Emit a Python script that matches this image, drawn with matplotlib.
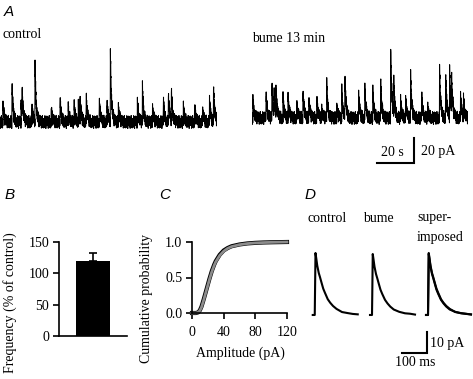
import matplotlib
matplotlib.use("Agg")
import matplotlib.pyplot as plt
import numpy as np

W, H = 473, 379
SERIF = "Liberation Serif"
SANS = "Liberation Sans"

# A: spontaneous events (time s, amplitude pA)
ctrl_event_t = [1.6, 6.5, 11.4, 11.9, 17.3, 18.9, 27.6, 32.4, 36.8, 40.0, 42.2, 43.2,
                46.5, 53.5, 57.8, 59.5, 63.8, 74.1, 76.8, 82.2, 88.1, 90.8, 92.4,
                98.9, 104.9, 109.2, 113.0, 115.1]
ctrl_event_amp = [15, 30, 16, 22, 11, 46, 10, 18, 12, 13, 15, 15,
                  21, 16, 14, 56, 13, 17, 28, 12, 18, 22, 26,
                  12, 13, 10, 18, 30]
bume_event_t = [0.5, 7.6, 10.8, 11.9, 13.0, 16.8, 19.5, 24.3, 27.6, 30.8, 35.1, 37.8,
                40.5, 45.9, 48.6, 50.3, 57.8, 61.1, 65.4, 69.7, 75.1, 76.8, 80.5,
                83.2, 85.9, 91.9, 95.1, 101.6, 104.9, 107.0, 108.1, 113.0, 114.6]
bume_event_amp = [16, 22, 27, 20, 20, 16, 19, 10, 22, 16, 14, 8,
                  28, 9, 22, 33, 19, 24, 22, 31, 58, 26, 14,
                  14, 36, 19, 9, 39, 37, 40, 32, 18, 16]
TRACE_LEN_S = 117.0
DECAY_S = 0.6
# baseline noise: excursions (pA) read as the ragged band around the baseline
noise_pa = [4.2, 2.1, 3.5, 5.0, 1.6, 3.9, 2.8, 4.6, 1.9, 3.3, 5.2, 2.4, 3.0, 4.4,
            1.4, 3.7, 2.6, 4.8, 2.2, 3.1, 1.8, 4.1, 2.9]

# B: mEPSC frequency in bumetanide
freq_mean = [120]
freq_sem = [12]

# C: cumulative amplitude distributions
amp_pa = [0, 5, 8, 10, 12, 15, 18, 20, 22, 25, 28, 30, 35, 40, 45, 50,
          60, 70, 80, 90, 100, 110, 120]
cdf_control = [0, 0, 0.01, 0.04, 0.09, 0.2, 0.32, 0.4, 0.48, 0.59, 0.68, 0.73,
               0.82, 0.88, 0.915, 0.94, 0.965, 0.98, 0.988, 0.993, 0.996, 0.998, 1.0]
cdf_bume = [0, 0, 0.01, 0.035, 0.08, 0.19, 0.31, 0.39, 0.47, 0.58, 0.67, 0.72,
            0.81, 0.87, 0.91, 0.935, 0.962, 0.978, 0.987, 0.992, 0.995, 0.998, 1.0]

# D: averaged events (ms from trace start, pA)
avg_t_ms = [0, 8, 9, 11, 14, 18, 24, 29, 36, 42, 49, 60, 70, 81, 95, 117, 140, 160, 180]
avg_control_pa = [0, 0, 10, 29.5, 27, 23.5, 20, 18, 15, 12.5, 10.5, 7.5, 5.8, 4.3,
                  2.9, 1.4, 0.9, 0.5, 0.3]
avg_bume_pa = [0, 0, 9, 29.0, 26.5, 23, 19.5, 17.5, 14.5, 12, 10, 7.2, 5.5, 4.0,
               2.6, 1.5, 0.8, 0.6, 0.2]


def px_axes(fig, left, top, right, bottom):
    return fig.add_axes([left / W, 1 - bottom / H, (right - left) / W, (bottom - top) / H])


def fig_text(fig, x, y, s, **kw):
    kw.setdefault("family", SERIF)
    kw.setdefault("fontsize", 10)
    fig.text(x / W, 1 - y / H, s, **kw)


def build_trace(event_t, event_amp, dt=0.08):
    t = np.arange(0, TRACE_LEN_S, dt)
    y = np.zeros_like(t)
    for t0, a in zip(event_t, event_amp):
        t0 = round(t0 / dt) * dt
        m = t >= t0 - 1e-9
        y[m] += a * np.exp(-(t[m] - t0) / DECAY_S)
    # alternate sign sample to sample so the noise renders as a dense band
    n = len(t)
    band = np.resize(np.array(noise_pa), n)
    y += band * np.where(np.arange(n) % 2, -1.0, 1.0)
    return t, y


def bare(ax):
    ax.set_axis_off()


def main() -> None:
    fig = plt.figure(figsize=(W / 100, H / 100), dpi=100)

    # ---- A: raw traces
    ax_l = px_axes(fig, 0, 34.5, 217, 134.5)
    t, y = build_trace(ctrl_event_t, ctrl_event_amp)
    ax_l.plot(t, y, color="black", lw=0.75)
    ax_l.set_xlim(0, TRACE_LEN_S)
    ax_l.set_ylim(-10, 70)
    bare(ax_l)

    ax_r = px_axes(fig, 252, 30.5, 468, 130.5)
    t, y = build_trace(bume_event_t, bume_event_amp)
    ax_r.plot(t, y, color="black", lw=0.75)
    ax_r.set_xlim(0, TRACE_LEN_S)
    ax_r.set_ylim(-10, 70)
    bare(ax_r)
    # scale bar 20 s / 20 pA
    ax_r.plot([67.6, 87.6, 87.6], [-36, -36, -16], color="black", lw=1.5,
              clip_on=False, solid_joinstyle="miter")

    fig_text(fig, 4, 12, "A", family=SANS, style="italic", fontsize=11, va="center")
    fig_text(fig, 2, 35, "control", va="center")
    fig_text(fig, 252, 38, "bume 13 min", va="center")
    fig_text(fig, 392, 152, "20 s", va="center", ha="center")
    fig_text(fig, 421, 152, "20 pA", va="center")

    # ---- B: frequency bar
    ax_b = px_axes(fig, 59, 241.7, 127, 336)
    ax_b.bar([0.5], freq_mean, width=0.5, color="black")
    ax_b.errorbar([0.5], freq_mean, yerr=[[0], freq_sem], fmt="none", ecolor="black",
                  elinewidth=1.2, capsize=3, capthick=1.2)
    ax_b.set_xlim(0, 1)
    ax_b.set_ylim(0, 150)
    ax_b.set_yticks([0, 50, 100, 150])
    ax_b.set_xticks([])
    for s in ("top", "right"):
        ax_b.spines[s].set_visible(False)
    fig_text(fig, 10, 195, "B", family=SANS, style="italic", fontsize=11, va="center", ha="center")
    fig_text(fig, 10, 303, "Frequency (% of control)", rotation=90, va="center", ha="center")

    # ---- C: cumulative amplitude
    ax_c = px_axes(fig, 192, 242, 287, 313)
    ax_c.plot(amp_pa, cdf_control, color="black", lw=3.0, clip_on=False)
    ax_c.plot(amp_pa, cdf_bume, color="#8c8c8c", lw=2.0, clip_on=False)
    ax_c.set_xlim(0, 120)
    ax_c.set_ylim(0, 1.0)
    ax_c.set_xticks([0, 40, 80, 120])
    ax_c.set_yticks([0, 0.5, 1.0])
    ax_c.set_yticklabels(["0.0", "0.5", "1.0"])
    for s in ("top", "right"):
        ax_c.spines[s].set_visible(False)
    fig_text(fig, 165, 195, "C", family=SANS, style="italic", fontsize=11, va="center", ha="center")
    fig_text(fig, 146, 298, "Cumulative probability", rotation=90, va="center", ha="center")
    fig_text(fig, 240, 353, "Amplitude (pA)", va="center", ha="center")

    for ax in (ax_b, ax_c):
        ax.tick_params(direction="out", length=4, width=1.2, labelsize=10, pad=3)
        for lab in ax.get_xticklabels() + ax.get_yticklabels():
            lab.set_family(SERIF)
        for s in ("left", "bottom"):
            ax.spines[s].set_linewidth(1.2)
    ax_c.tick_params(axis="x", pad=5)

    # ---- D: averaged events
    ax_d = px_axes(fig, 305, 245, 473, 365)
    t_avg = np.array(avg_t_ms)
    ax_d.plot(t_avg + 31, avg_control_pa, color="black", lw=1.5)
    ax_d.plot(t_avg + 260, avg_bume_pa, color="black", lw=1.5)
    ax_d.plot(t_avg + 484, avg_control_pa, color="black", lw=1.5)
    ax_d.plot(t_avg + 484, avg_bume_pa, color="black", lw=1.5)
    ax_d.plot([388, 488, 488], [-18.1, -18.1, -8.1], color="black", lw=1.5,
              clip_on=False, solid_joinstyle="miter")
    ax_d.set_xlim(0, 672)
    ax_d.set_ylim(-23.8, 33.3)
    bare(ax_d)
    fig_text(fig, 310, 195, "D", family=SANS, style="italic", fontsize=11, va="center", ha="center")
    fig_text(fig, 327, 218, "control", va="center", ha="center")
    fig_text(fig, 378, 218, "bume", va="center", ha="center")
    fig_text(fig, 417, 218, "super-", va="center")
    fig_text(fig, 417, 238, "imposed", va="center")
    fig_text(fig, 430, 343, "10 pA", va="center")
    fig_text(fig, 415, 362, "100 ms", va="center", ha="center")

    fig.savefig("out.png", dpi=100)
    plt.close(fig)


if __name__ == "__main__":
    main()
